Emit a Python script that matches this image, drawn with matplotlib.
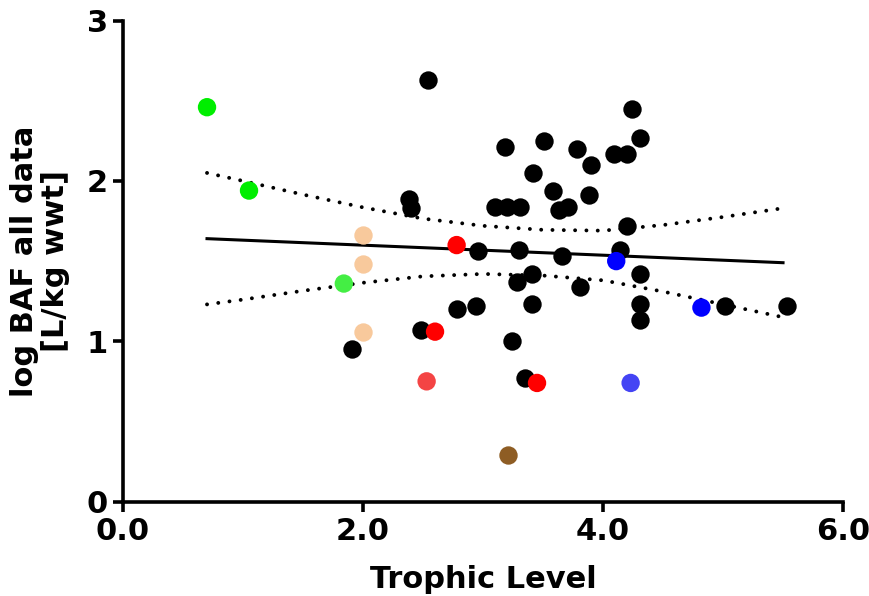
import matplotlib
matplotlib.use('Agg')
import matplotlib.pyplot as plt

# trophic level vs log BAF
black_x = [2.54, 4.24, 4.31, 3.18, 3.51, 3.78, 4.09, 4.20, 3.90, 3.42, 3.58, 3.88,
           2.38, 2.40, 3.10, 3.20, 3.31, 3.63, 3.71, 4.20, 2.96, 3.30, 3.66, 4.14,
           4.31, 3.41, 3.28, 3.81, 2.78, 2.94, 3.41, 4.31, 4.31, 2.48, 3.24, 1.91,
           3.35, 5.02, 5.53]
black_y = [2.63, 2.45, 2.27, 2.21, 2.25, 2.20, 2.17, 2.17, 2.10, 2.05, 1.94, 1.91,
           1.89, 1.83, 1.84, 1.84, 1.84, 1.82, 1.84, 1.72, 1.56, 1.57, 1.53, 1.57,
           1.42, 1.42, 1.37, 1.34, 1.20, 1.22, 1.23, 1.23, 1.13, 1.07, 1.00, 0.95,
           0.77, 1.22, 1.22]

green_x = [0.70, 1.05, 1.84]
green_y = [2.46, 1.94, 1.36]
green_c = ['#00ee00', '#00ee00', '#44ee44']

peach_x = [2.00, 2.00, 2.00]
peach_y = [1.66, 1.48, 1.06]

red_x = [2.78, 2.60, 2.53, 3.45]
red_y = [1.60, 1.06, 0.75, 0.74]
red_c = ['#ff0000', '#ff0000', '#f44444', '#ff0000']

blue_x = [4.11, 4.82, 4.23]
blue_y = [1.50, 1.21, 0.74]
blue_c = ['#0000ff', '#0000ff', '#4444f4']

brown_x = [3.21]
brown_y = [0.29]

# regression line and 95% confidence band
fit_x = [0.70, 5.50]
fit_y = [1.64, 1.49]
band_x = [0.7, 1.0, 1.5, 2.0, 2.5, 3.0, 3.5, 4.0, 4.5, 5.0, 5.5]
band_hi = [2.05, 2.00, 1.915, 1.835, 1.765, 1.72, 1.695, 1.69, 1.725, 1.775, 1.83]
band_lo = [1.23, 1.26, 1.315, 1.365, 1.405, 1.42, 1.41, 1.38, 1.31, 1.23, 1.15]

fig = plt.figure(figsize=(8.7, 5.96), dpi=100)
ax = fig.add_axes([0.1414, 0.1584, 0.8276, 0.807])

ax.plot(fit_x, fit_y, color='black', lw=2.2, zorder=1)
for yb in (band_hi, band_lo):
    ax.plot(band_x, yb, color='black', lw=2.8, dashes=[0.01, 2.9],
            dash_capstyle='round', zorder=1)

s = 175
ax.scatter(black_x, black_y, s=s, color='black', lw=0, zorder=2)
ax.scatter(green_x, green_y, s=s, color=green_c, lw=0, zorder=3)
ax.scatter(peach_x, peach_y, s=s, color='#f8c99c', lw=0, zorder=3)
ax.scatter(red_x, red_y, s=s, color=red_c, lw=0, zorder=3)
ax.scatter(blue_x, blue_y, s=s, color=blue_c, lw=0, zorder=3)
ax.scatter(brown_x, brown_y, s=s, color='#8e5d24', lw=0, zorder=3)

ax.set_xlim(0, 6)
ax.set_ylim(0, 3)
ax.set_xticks([0, 2, 4, 6])
ax.set_xticklabels(['0.0', '2.0', '4.0', '6.0'])
ax.set_yticks([0, 1, 2, 3])
for sp in ['top', 'right']:
    ax.spines[sp].set_visible(False)
for sp in ['left', 'bottom']:
    ax.spines[sp].set_linewidth(2.6)
ax.tick_params(width=2.6, length=7, labelsize=22, pad=4)
for lab in ax.get_xticklabels() + ax.get_yticklabels():
    lab.set_fontweight('bold')

ax.set_xlabel('Trophic Level', fontsize=22, fontweight='bold', labelpad=14)
ax.set_ylabel('log BAF all data\n[L/kg wwt]', fontsize=22, fontweight='bold',
              labelpad=12, linespacing=1.08)

fig.savefig('out.png', dpi=100)
